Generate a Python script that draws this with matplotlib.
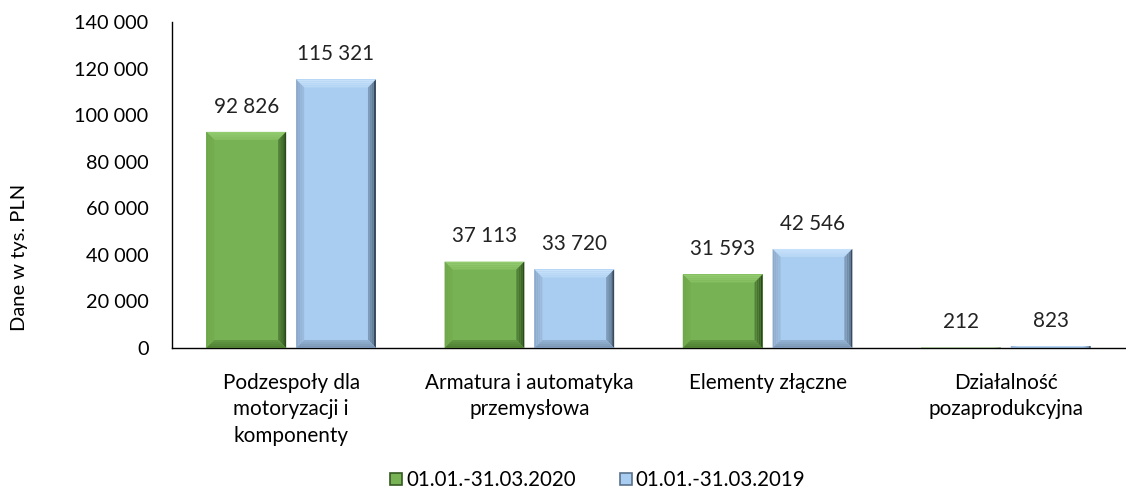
import matplotlib
matplotlib.use("Agg")
import matplotlib.pyplot as plt
from matplotlib.patches import Polygon, Rectangle
from matplotlib.lines import Line2D
import matplotlib.colors as mcolors
import numpy as np

categories = ["Podzespoły dla\nmotoryzacji i\nkomponenty",
              "Armatura i automatyka\nprzemysłowa",
              "Elementy złączne",
              "Działalność\npozaprodukcyjna"]
series_names = ["01.01.-31.03.2020", "01.01.-31.03.2019"]
values_2020 = [92826, 37113, 31593, 212]
values_2019 = [115321, 33720, 42546, 823]
yticks = [0, 20000, 40000, 60000, 80000, 100000, 120000, 140000]

plt.rcParams['font.family'] = ['Lato', 'DejaVu Sans']

fig = plt.figure(figsize=(11.26, 4.99), dpi=100)
ax = fig.add_axes([0.1528, 0.3026, 0.8462, 0.6533])

n = len(categories)
x = np.arange(n)
bw = 0.335
gap = 0.042
ax.set_xlim(-0.5, n - 0.5)
ax.set_ylim(0, 140000)

styles = [
    dict(face="#77B254", top="#93CC70", left="#6FA84C", right="#345A22", bottom="#4F8034", edge="#2A4A1B"),
    dict(face="#A9CDF1", top="#C6E1F9", left="#8EAACB", right="#5A728C", bottom="#7D98B6", edge="#3A4B5E"),
]


def mix(c1, c2, t):
    a = np.array(mcolors.to_rgb(c1))
    b = np.array(mcolors.to_rgb(c2))
    return tuple(a * (1 - t) + b * t)


fig.canvas.draw()
p0 = ax.transData.transform((0, 0))
p1 = ax.transData.transform((1, 10000))
px_x = (p1[0] - p0[0])
px_y = (p1[1] - p0[1]) / 10000.0
bev = 8.0
steps = 4

for si, vals in enumerate([values_2020, values_2019]):
    st = styles[si]
    offs = -(bw + gap) / 2 if si == 0 else (bw + gap) / 2
    for i, v in enumerate(vals):
        xc = x[i] + offs
        x0, x1 = xc - bw / 2, xc + bw / 2
        y0, y1 = 0, v
        ax.add_patch(Rectangle((x0, y0), bw, v, facecolor=st["face"], edgecolor="none", zorder=2))
        bxx = min(bev / px_x, bw / 2)
        byy = min(bev / px_y, v / 2)
        for k in range(steps):
            t_out = k / steps
            t_in = (k + 1) / steps
            ox0, ox1 = x0 + bxx * t_out, x1 - bxx * t_out
            oy0, oy1 = y0 + byy * t_out, y1 - byy * t_out
            ix0, ix1 = x0 + bxx * t_in, x1 - bxx * t_in
            iy0, iy1 = y0 + byy * t_in, y1 - byy * t_in
            fade = k / steps * 0.6
            ax.add_patch(Polygon([(ox0, oy1), (ox1, oy1), (ix1, iy1), (ix0, iy1)], closed=True,
                                 facecolor=mix(st["top"], st["face"], fade), edgecolor="none", zorder=3))
            ax.add_patch(Polygon([(ox0, oy0), (ox0, oy1), (ix0, iy1), (ix0, iy0)], closed=True,
                                 facecolor=mix(st["left"], st["face"], fade), edgecolor="none", zorder=3))
            rc = st["edge"] if k == 0 else mix(st["right"], st["face"], fade)
            ax.add_patch(Polygon([(ox1, oy0), (ox1, oy1), (ix1, iy1), (ix1, iy0)], closed=True,
                                 facecolor=rc, edgecolor="none", zorder=3))
            ax.add_patch(Polygon([(ox0, oy0), (ox1, oy0), (ix1, iy0), (ix0, iy0)], closed=True,
                                 facecolor=mix(st["bottom"], st["face"], fade), edgecolor="none", zorder=3))
        ax.annotate(f"{v:,}".replace(",", " "), (xc, v), xytext=(0, 11), textcoords="offset points",
                    ha="center", va="bottom", fontsize=14.9, color="#222222", zorder=5)

ax.set_xticks(x)
ax.set_xticklabels(categories, fontsize=14.9, linespacing=1.4, va="top")
ax.tick_params(axis="x", length=0, pad=18)
ax.set_yticks(yticks)
ax.set_yticklabels([f"{t:,}".replace(",", " ") for t in yticks], fontsize=14.3)
ax.tick_params(axis="y", length=0, pad=17)
for s in ["top", "right"]:
    ax.spines[s].set_visible(False)
ax.spines["left"].set_linewidth(1.0)
ax.spines["bottom"].set_linewidth(1.0)
ax.set_ylabel("Dane w tys. PLN", fontsize=14.5)
ax.yaxis.set_label_coords(-0.151, 0.279)

handles = [Line2D([], [], marker="s", linestyle="none", markersize=9,
                  markerfacecolor=styles[i]["face"], markeredgecolor=styles[i]["right"], markeredgewidth=1.2)
           for i in range(2)]
fig.legend(handles, series_names, loc="lower center", bbox_to_anchor=(0.53, -0.02), ncol=2,
           frameon=False, fontsize=14.8, handletextpad=0.1, columnspacing=2.0, handlelength=0.8)

fig.savefig("out.png", dpi=100)
